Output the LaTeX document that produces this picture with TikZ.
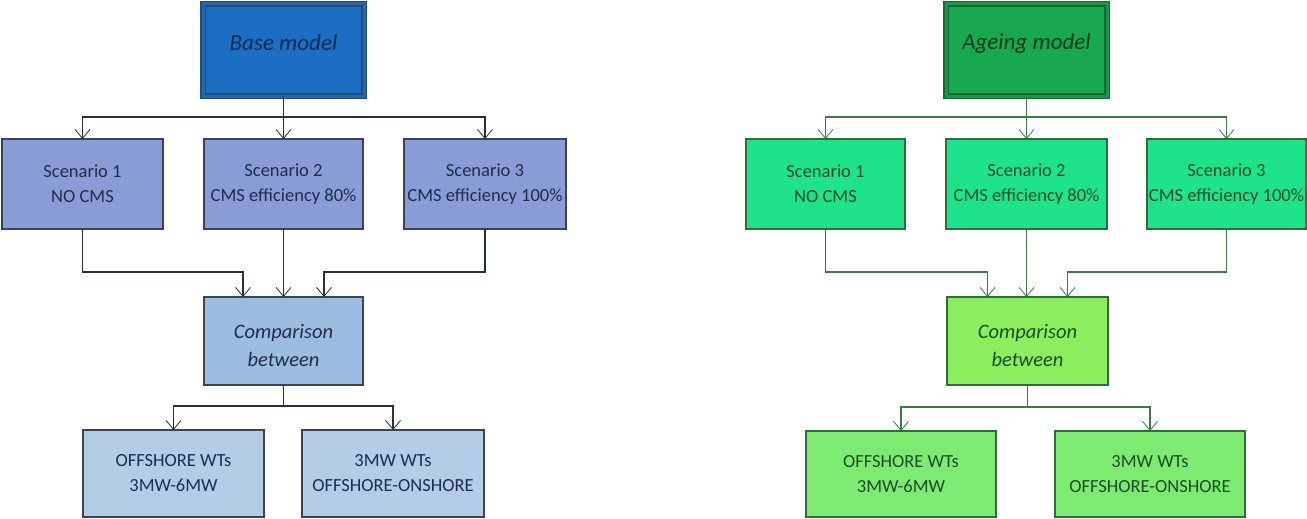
\documentclass[tikz,border=0pt]{standalone}
\usepackage{fontspec}
\setmainfont{Carlito}
\usetikzlibrary{arrows.meta,calc}
\definecolor{basefill}{HTML}{1B6EC2}
\definecolor{basedark}{HTML}{1F4E79}
\definecolor{basemid}{HTML}{2A65A8}
\definecolor{basetxt}{HTML}{0D2A4F}
\definecolor{scenL}{HTML}{8A9CD5}
\definecolor{compL}{HTML}{9DBDE0}
\definecolor{botL}{HTML}{B4CDE6}
\definecolor{borderL}{HTML}{3A4455}
\definecolor{lineL}{HTML}{27313D}
\definecolor{txtL}{HTML}{1F2D4D}
\definecolor{agefill}{HTML}{18A850}
\definecolor{agedark}{HTML}{106A34}
\definecolor{agemid}{HTML}{1E9447}
\definecolor{agetxt}{HTML}{0B3B1C}
\definecolor{scenG}{HTML}{1FE38C}
\definecolor{compG}{HTML}{8CEE5E}
\definecolor{botG}{HTML}{7DEB72}
\definecolor{borderG}{HTML}{2F6B3C}
\definecolor{lineG}{HTML}{3C7A48}
\definecolor{txtG}{HTML}{1B4D25}
\begin{document}
\begin{tikzpicture}[x=1pt,y=-1pt,
  box/.style={line width=1.3pt, inner sep=0pt, outer sep=0pt, align=center,
    font=\fontsize{18.5}{25}\selectfont},
  lbox/.style={box, draw=borderL, text=txtL},
  gbox/.style={box, draw=borderG, text=txtG},
  titlebox/.style={line width=1.2pt, double distance=3pt, inner sep=0pt, outer sep=0pt},
  titletxt/.style={inner sep=0pt, font=\fontsize{23}{28}\selectfont\itshape},
  comptxt/.style={inner sep=0pt, align=center, font=\fontsize{20.5}{28}\selectfont\itshape},
  conn/.style={line width=1.3pt, -{Straight Barb[length=9pt,width=15pt,line width=0.8pt]}},
  plain/.style={line width=1.3pt},
]
\useasboundingbox (0,0) rectangle (1307,519);

% ---------------- left: base model ----------------
\node[titlebox, draw=basedark, double=basemid, fill=basefill,
  minimum width=161pt, minimum height=92pt] (base) at (283.5,50) {};
\node[titletxt, text=basetxt] (baset) at ([yshift=7pt]base.center) {Base model};

\node[lbox, fill=scenL, minimum width=161pt, minimum height=90pt] (s1) at (82.5,184) {Scenario 1\\NO CMS};
\node[lbox, fill=scenL, minimum width=159pt, minimum height=90pt] (s2) at (283.5,184) {Scenario 2\\CMS efficiency 80\%};
\node[lbox, fill=scenL, minimum width=162pt, minimum height=90pt] (s3) at (485,184) {Scenario 3\\CMS efficiency 100\%};

\node[lbox, fill=compL, minimum width=159pt, minimum height=88pt] (cmp) at (283.5,341) {};
\node[comptxt, text=txtL] (cmpt) at ([yshift=-5pt]cmp.center) {Comparison\\between};

\node[lbox, fill=botL, minimum width=181pt, minimum height=87pt] (b1) at (173.5,473.5) {OFFSHORE WTs\\3MW-6MW};
\node[lbox, fill=botL, minimum width=182pt, minimum height=87pt] (b2) at (393,473.5) {3MW WTs\\OFFSHORE-ONSHORE};

\coordinate (busA) at (0,117);
\coordinate (busB) at (0,272);
\coordinate (busC) at (0,406);
\coordinate (in1) at ([xshift=-40.5pt]cmp.north);
\coordinate (in3) at ([xshift=40.5pt]cmp.north);

\begin{scope}[draw=lineL, color=lineL]
\draw[conn] (base.south) -- (s2.north);
\draw[conn] (base.south |- busA) -| (s1.north);
\draw[conn] (base.south |- busA) -| (s3.north);
\draw[conn] (s1.south) -- (s1.south |- busB) -| (in1);
\draw[conn] (s2.south) -- (cmp.north);
\draw[conn] (s3.south) -- (s3.south |- busB) -| (in3);
\draw[plain] (cmp.south) -- (cmp.south |- busC);
\draw[conn] (cmp.south |- busC) -| (b1.north);
\draw[conn] (cmp.south |- busC) -| (b2.north);
\end{scope}

% ---------------- right: ageing model ----------------
\node[titlebox, draw=agedark, double=agemid, fill=agefill,
  minimum width=161pt, minimum height=92pt] (age) at (1026.5,50) {};
\node[titletxt, text=agetxt] (aget) at ([yshift=7pt]age.center) {Ageing model};

\node[gbox, fill=scenG, minimum width=159pt, minimum height=90pt] (g1) at (825.5,184) {Scenario 1\\NO CMS};
\node[gbox, fill=scenG, minimum width=161pt, minimum height=90pt] (g2) at (1026.5,184) {Scenario 2\\CMS efficiency 80\%};
\node[gbox, fill=scenG, minimum width=159pt, minimum height=90pt] (g3) at (1226.5,184) {Scenario 3\\CMS efficiency 100\%};

\node[gbox, fill=compG, minimum width=161pt, minimum height=88pt] (gc) at (1027.5,341) {};
\node[comptxt, text=txtG] (gct) at ([yshift=-5pt]gc.center) {Comparison\\between};

\node[gbox, fill=botG, minimum width=190pt, minimum height=86pt] (gb1) at (901,474) {OFFSHORE WTs\\3MW-6MW};
\node[gbox, fill=botG, minimum width=190pt, minimum height=86pt] (gb2) at (1150,474) {3MW WTs\\OFFSHORE-ONSHORE};

\coordinate (busD) at (0,407);
\coordinate (gin1) at ([xshift=-40pt]gc.north);
\coordinate (gin3) at ([xshift=40pt]gc.north);

\begin{scope}[draw=lineG, color=lineG]
\draw[conn] (age.south) -- (g2.north);
\draw[conn] (age.south |- busA) -| (g1.north);
\draw[conn] (age.south |- busA) -| (g3.north);
\draw[conn] (g1.south) -- (g1.south |- busB) -| (gin1);
\draw[conn] (g2.south) -- (g2.south |- gc.north);
\draw[conn] (g3.south) -- (g3.south |- busB) -| (gin3);
\draw[plain] (gc.south) -- (gc.south |- busD);
\draw[conn] (gc.south |- busD) -| (gb1.north);
\draw[conn] (gc.south |- busD) -| (gb2.north);
\end{scope}
\end{tikzpicture}
\end{document}
